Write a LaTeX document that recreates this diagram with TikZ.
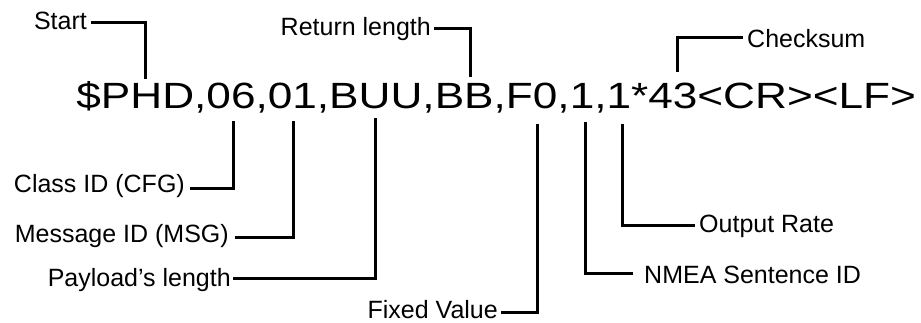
\documentclass[tikz,border=0pt]{standalone}
\usepackage{fontspec}
\setmainfont{Liberation Sans}
\usepackage{graphicx}
\tikzset{
  lbl/.style={inner sep=0pt, font=\fontsize{25}{28}\selectfont},
  lead/.style={line width=3pt, line join=miter, line cap=butt},
}
\begin{document}
\begin{tikzpicture}[x=1pt,y=-1pt]
\useasboundingbox[fill=white] (0,0) rectangle (921,322);
% main sentence
\node[anchor=base west, inner sep=0pt] (msg) at (76.2,108)
  {\scalebox{1.21}[1]{\fontsize{36.5}{40}\selectfont \$PHD,06,01,BUU,BB,F0,1,1*43<CR><LF>}};
% labels
\node[lbl, anchor=base east] (start) at (87,29) {Start};
\node[lbl, anchor=base east] (ret) at (431,35) {Return length};
\node[lbl, anchor=base west] (chk) at (747,47) {Checksum};
\node[lbl, anchor=base east] (cls) at (185,192) {Class ID (CFG)};
\node[lbl, anchor=base east] (mid) at (229,242) {Message ID (MSG)};
\node[lbl, anchor=base east] (pay) at (231,286) {Payload’s length};
\node[lbl, anchor=base east] (fix) at (498,318) {Fixed Value};
\node[lbl, anchor=base west] (nmea) at (644,283) {NMEA Sentence ID};
\node[lbl, anchor=base west] (out) at (699,232) {Output Rate};
% end points at the sentence
\coordinate (tStart) at (145,79);
\coordinate (tRet) at (470,77);
\coordinate (tChk) at (677,72);
\coordinate (tCls) at (233,121);
\coordinate (tMid) at (293,121);
\coordinate (tPay) at (375,118);
\coordinate (tFix) at (537,124);
\coordinate (tNmea) at (585,122);
\coordinate (tOut) at (622,124);
% leaders
\draw[lead] (start.east |- 0,22) ++(4,0) -| (tStart);
\draw[lead] (ret.east |- 0,28) ++(3,0) -| (tRet);
\draw[lead] (chk.west |- 0,37) ++(-4,0) -| (tChk);
\draw[lead] (cls.east |- 0,188) ++(5,0) -| (tCls);
\draw[lead] (mid.east |- 0,237) ++(6,0) -| (tMid);
\draw[lead] (pay.east |- 0,278) ++(2,0) -| (tPay);
\draw[lead] (fix.east |- 0,312) ++(3,0) -| (tFix);
\draw[lead] (nmea.west |- 0,273) ++(-11,0) -| (tNmea);
\draw[lead] (out.west |- 0,225) ++(-4,0) -| (tOut);
\end{tikzpicture}
\end{document}
